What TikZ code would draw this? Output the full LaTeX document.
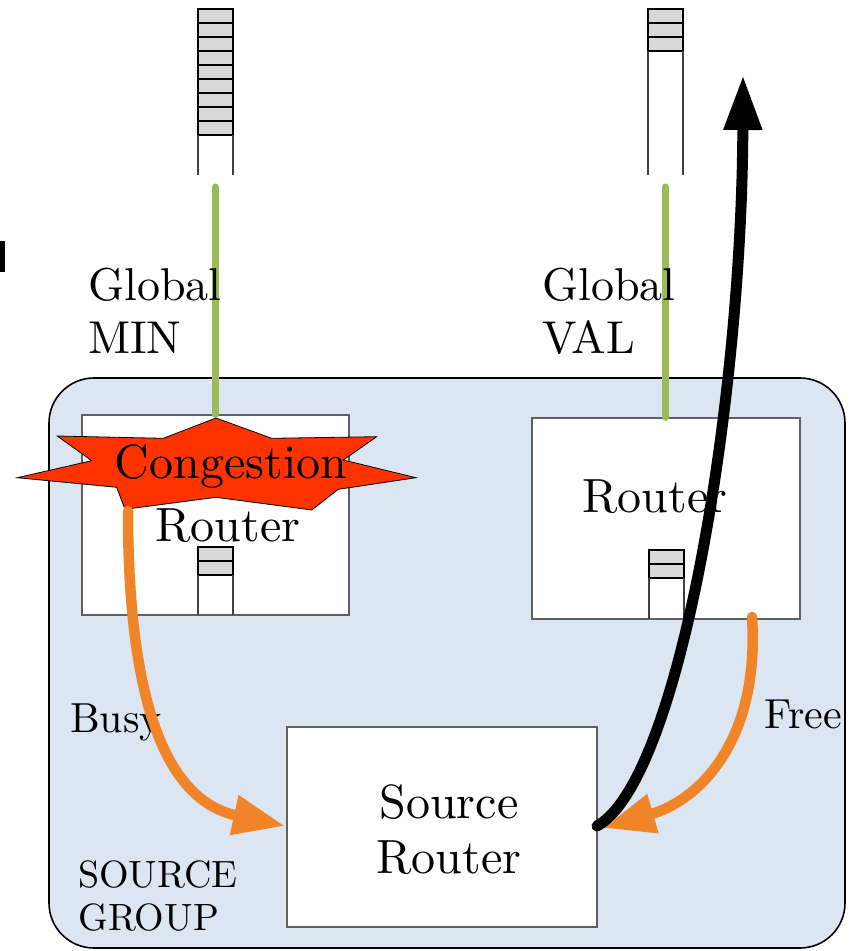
\documentclass[tikz,border=0pt]{standalone}
\usetikzlibrary{arrows.meta}
% Latin Modern Roman at its 10pt design size for every text size
\DeclareFontFamily{TU}{lmten}{}
\DeclareFontShape{TU}{lmten}{m}{n}{<-> \UnicodeFontFile{lmroman10-regular}{\UnicodeFontTeXLigatures}}{}
\renewcommand\rmdefault{lmten}
\definecolor{groupblue}{HTML}{DCE6F2}
\definecolor{linkgreen}{HTML}{9BBB59}
\definecolor{hoporange}{HTML}{F08428}
\definecolor{congred}{HTML}{FF3300}
\definecolor{cellgray}{HTML}{D9D9D9}
\definecolor{boxgray}{HTML}{606060}
\begin{document}
\begin{tikzpicture}[x=1pt,y=-1pt,
  groupbox/.style={draw=black, line width=1.6pt, fill=groupblue, rounded corners=45pt},
  routerbox/.style={draw=boxgray, line width=1.3pt, fill=white, inner sep=0pt},
  cell/.style={draw=black, line width=1.4pt, fill=cellgray},
  rail/.style={draw=black!75, line width=1.3pt},
  lbl/.style={inner sep=0pt, align=left},
  greenlink/.style={draw=linkgreen, line width=7pt, line cap=round},
  hop/.style={draw=hoporange, line width=10.5pt, line cap=round,
    -{Triangle[length=52pt,width=38pt]}},
  path/.style={draw=black, line width=11pt, line cap=round,
    -{Triangle[length=55pt,width=36pt]}},
  big/.style={font=\fontsize{48}{55}\selectfont}
]
\useasboundingbox (0,0) rectangle (852,951);

% mark at the left edge
\fill[black] (0,241) rectangle (5,272);

% global channel queues
\foreach \i in {0,...,8}
  \draw[cell] (198,{9+14*\i}) rectangle (233,{23+14*\i});
\draw[rail] (198,135) -- (198,175) (233,135) -- (233,175);
\foreach \i in {0,...,2}
  \draw[cell] (648,{9+14*\i}) rectangle (683,{23+14*\i});
\draw[rail] (648,51) -- (648,175) (683,51) -- (683,175);
\coordinate (qmin) at (215,187);
\coordinate (qval) at (665,187);

% source group
\draw[groupbox] (49,378) rectangle (845,948);

% routers
\node[routerbox, minimum width=267pt, minimum height=200pt] (rmin) at (215.5,515) {};
\node[routerbox, minimum width=268pt, minimum height=201pt] (rval) at (666,518.5) {};
\node[routerbox, minimum width=310pt, minimum height=200pt] (src) at (442,827) {};

% local queues
\foreach \i in {0,1}
  \draw[cell] (198,{547+14*\i}) rectangle (233,{561+14*\i});
\draw[rail] (198,575) -- (198,615) (233,575) -- (233,615);
\foreach \i in {0,1}
  \draw[cell] (649,{550+14*\i}) rectangle (684,{564+14*\i});
\draw[rail] (649,578) -- (649,619) (684,578) -- (684,619);

% global links
\draw[greenlink] (qmin) -- (rmin.north -| qmin);
\draw[greenlink] (qval) -- (rval.north -| qval);

% labels (multi-line nodes sit on the baseline of their last line)
\node[lbl, anchor=base west, font=\fontsize{46}{53}\selectfont] (lmin) at (88,353) {Global\\MIN};
\node[lbl, anchor=base west, font=\fontsize{46}{53}\selectfont] (lval) at (542,353) {Global\\VAL};
\node[lbl, big, anchor=base] (tmin) at (228,541) {Router};
\node[lbl, big, anchor=base] (tval) at (655,512) {Router};
\node[lbl, big, anchor=base, align=center] (tsrc) at (449,873) {Source\\Router};
\node[lbl, anchor=base west, font=\fontsize{42}{48}\selectfont] (busy) at (70,732) {Busy};
\node[lbl, anchor=base west, font=\fontsize{42}{48}\selectfont] (free) at (764,728) {Free};
\node[lbl, anchor=base west, font=\fontsize{38}{43}\selectfont] (grp) at (78,930) {SOURCE\\GROUP};

% congestion burst
\draw[fill=congred, draw=black, line width=0.8pt]
  (216,418) -- (271.7,438.3) -- (376.7,436.7) -- (343.3,460) -- (416,477.7)
  -- (338.3,489.3) -- (311.7,510) -- (216,497.3) -- (125,509.3) -- (116.7,487.3)
  -- (17.3,477.7) -- (91.7,460.7) -- (57.3,436) -- (163.3,438.3) -- cycle;
\node[lbl, big] (cong) at (231,467) {Congestion};

% local hops to the source router
\coordinate (hmin) at (128,511);
\coordinate (hval) at (752,617);
\coordinate (smin) at (285,826);
\coordinate (sval) at (603,828);
\draw[hop] (hmin) .. controls (128,700) and (165,800) .. (smin);
\draw[hop] (hval) .. controls (760,740) and (700,800) .. (sval);

% chosen route through the free router
\coordinate (sout) at (597,826);
\coordinate (up) at (743,75);
\draw[path] (sout) .. controls (680,780) and (742,400) .. (up);
\fill[black] (sout) circle (5pt);
\end{tikzpicture}
\end{document}
